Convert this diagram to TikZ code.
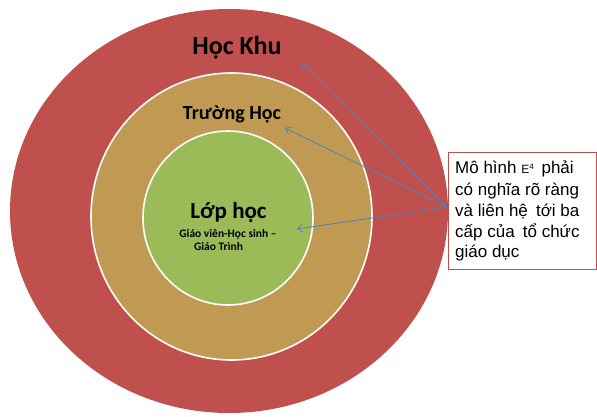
\documentclass[tikz,border=0pt]{standalone}
\usepackage{fontspec}
\setmainfont{Carlito}
\newfontfamily\boxfont{Liberation Sans}
\usetikzlibrary{shapes.geometric,arrows.meta}
\definecolor{ringred}{HTML}{C0504D}
\definecolor{ringtan}{HTML}{C09A52}
\definecolor{ringgreen}{HTML}{9BBB59}
\definecolor{arrowblue}{HTML}{4F81BD}
\tikzset{
  ring/.style={ellipse, inner sep=0, draw=white, line width=1.6pt},
  lbl/.style={inner sep=0, anchor=base, font=\bfseries},
  boxline/.style={inner sep=0, anchor=base west, font=\boxfont\fontsize{17}{20}\selectfont},
  pointer/.style={draw=arrowblue, line width=0.8pt, -{Straight Barb[length=5pt,width=8pt]}}
}
\begin{document}
\begin{tikzpicture}[x=1pt,y=-1pt]
\useasboundingbox (0,0) rectangle (597,417);
\node[ring, fill=ringred, draw=none, minimum width=438, minimum height=404] (outer) at (229,211) {};
\node[ring, fill=ringtan, minimum width=281, minimum height=287] (middle) at (231.5,216.5) {};
\node[ring, fill=ringgreen, minimum width=170, minimum height=174] (inner) at (228,218) {};
\node[lbl, font=\bfseries\fontsize{26}{26}\selectfont] (t1) at (237,55) {Học Khu};
\node[lbl, font=\bfseries\fontsize{20}{20}\selectfont] (t2) at (232,120) {Trường Học};
\node[lbl, font=\bfseries\fontsize{23}{23}\selectfont] (t3) at (228.5,218) {Lớp học};
\node[lbl, font=\bfseries\fontsize{11.5}{11.5}\selectfont] (t4) at (228,237) {Giáo viên-Học sinh –};
\node[lbl, font=\bfseries\fontsize{11.5}{11.5}\selectfont] (t5) at (218.5,250) {Giáo Trình};
\node[draw=ringred, line width=1.2pt, fill=white, inner sep=0, minimum width=148, minimum height=117, anchor=north west] (box) at (448,152) {};
\node[boxline] (l1) at (455,174) {Mô hình {\fontsize{12}{12}\selectfont E\textsuperscript{4}}\hspace{0.15em} phải};
\node[boxline] (l2) at (455,195.5) {có nghĩa rõ ràng};
\node[boxline] (l3) at (455,216.5) {và liên hệ\hspace{0.2em} tới ba};
\node[boxline] (l4) at (455,237) {cấp của\hspace{0.2em} tổ chức};
\node[boxline] (l5) at (455,257.5) {giáo dục};
\coordinate (src) at (447,207);
\coordinate (e1) at (302,63);
\coordinate (e2) at (285,128);
\coordinate (e3) at (297,229);
\draw[pointer] (src) -- (e1);
\draw[pointer] (src) -- (e2);
\draw[pointer] (src) -- (e3);
\end{tikzpicture}
\end{document}
